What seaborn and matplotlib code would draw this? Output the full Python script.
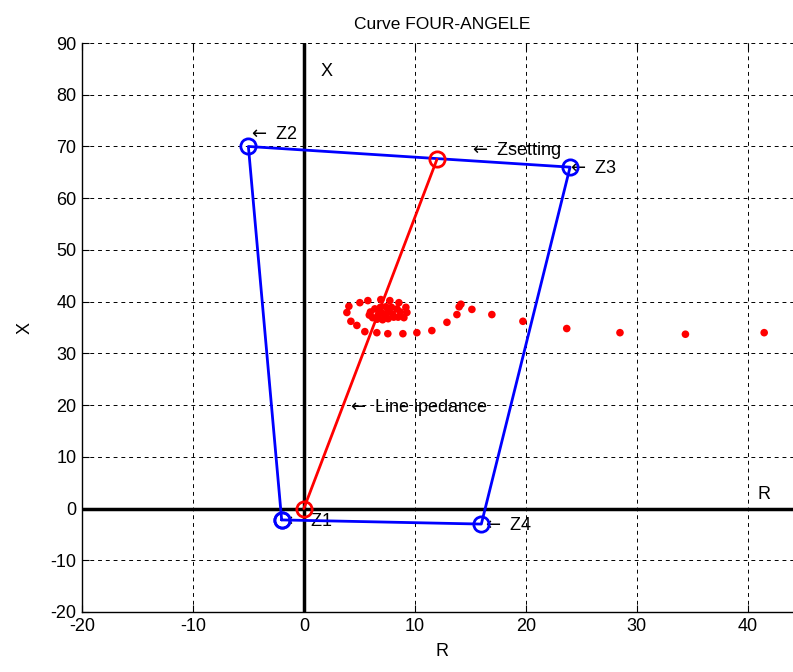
import matplotlib
matplotlib.use("Agg")
import matplotlib.pyplot as plt
import seaborn as sns
import pandas as pd

# ---- data ----
zone_names = ["Z1", "Z2", "Z3", "Z4"]
zone_r = [-2.0, -5.0, 24.0, 16.0]
zone_x = [-2.2, 70.0, 66.0, -3.0]

line_r = [0.0, 12.0]
line_x = [0.0, 67.5]

traj_r = [41.5, 34.4, 28.5, 23.7, 19.75, 16.95, 15.15, 14.16, 14.0, 13.8, 12.9,
          11.54, 10.19, 8.93, 7.57, 6.58, 5.5, 4.78, 4.24, 3.88, 4.06, 5.05,
          5.77, 6.94, 7.75, 8.57, 9.2, 9.29, 9.02,
          8.5, 8.7, 8.4, 7.9, 7.4, 6.9, 6.4, 6.0, 5.9, 6.2, 6.6, 7.1, 7.6,
          8.1, 7.0, 7.3, 6.8, 7.6, 6.7, 8.0]
traj_x = [34.0, 33.7, 34.0, 34.8, 36.2, 37.5, 38.5, 39.5, 39.0, 37.5, 36.0,
          34.4, 34.0, 33.8, 33.8, 34.0, 34.2, 35.4, 36.2, 37.9, 39.1, 39.8,
          40.2, 40.4, 40.2, 39.8, 38.9, 37.9, 36.9,
          37.0, 38.0, 38.6, 38.9, 39.0, 38.9, 38.6, 38.0, 37.4, 36.9, 36.6,
          36.5, 36.7, 37.0, 37.8, 37.6, 38.1, 38.1, 37.4, 37.6]

xticks = [-20, -10, 0, 10, 20, 30, 40]
yticks = [-20, -10, 0, 10, 20, 30, 40, 50, 60, 70, 80, 90]

annotations = ["Z2", "Z3", "Zsetting", "Z1", "Z4", "Line ipedance"]

sns.set_theme(style="white")
plt.rcParams["font.family"] = ["Liberation Sans", "DejaVu Sans"]
plt.rcParams["axes.unicode_minus"] = False
plt.rcParams["text.color"] = "black"
plt.rcParams["axes.labelcolor"] = "black"
plt.rcParams["xtick.color"] = "black"
plt.rcParams["ytick.color"] = "black"
plt.rcParams["mathtext.fontset"] = "dejavusans"

fig = plt.figure(figsize=(7.93, 6.72), dpi=100)
W, H = 793, 672
left, right, top, bottom = 82, 803, 43, 612
ax = fig.add_axes([left / W, 1 - bottom / H, (right - left) / W, (bottom - top) / H])

# axes lines through origin
ax.axhline(0, color="black", lw=2.5, zorder=2)
ax.axvline(0, color="black", lw=2.5, zorder=2)

poly = pd.DataFrame({"R": zone_r + [zone_r[0]], "X": zone_x + [zone_x[0]]})
sns.lineplot(data=poly, x="R", y="X", sort=False, estimator=None, ax=ax,
             color=(0, 0, 1), lw=2, marker="o", markersize=11,
             markerfacecolor="none", markeredgecolor=(0, 0, 1), markeredgewidth=2,
             zorder=4)

ln = pd.DataFrame({"R": line_r, "X": line_x})
sns.lineplot(data=ln, x="R", y="X", sort=False, estimator=None, ax=ax,
             color=(1, 0, 0), lw=2, marker="o", markersize=11,
             markerfacecolor="none", markeredgecolor=(1, 0, 0), markeredgewidth=2,
             zorder=4)

traj = pd.DataFrame({"R": traj_r, "X": traj_x})
sns.scatterplot(data=traj, x="R", y="X", ax=ax, color=(1, 0, 0), s=30,
                edgecolor="none", zorder=5)

ax.set_xlim(-20, 45)
ax.set_ylim(-20, 90)
ax.set_xticks(xticks)
ax.set_yticks(yticks)
ax.grid(True, color="black", linestyle=(0, (4, 4)), lw=0.7)
for s in ["top", "right"]:
    ax.spines[s].set_visible(False)
for s in ["left", "bottom"]:
    ax.spines[s].set_color("black")
    ax.spines[s].set_linewidth(1.0)
ax.tick_params(direction="in", length=5, width=0.8, colors="black",
               labelsize=13, top=True, bottom=True, left=True, pad=4)

ax.set_xlabel("R", fontsize=13, labelpad=6)
ax.set_ylabel("X", fontsize=13, labelpad=12)
ax.set_title("Curve FOUR-ANGELE", fontsize=12.5, pad=10)

fs = 13
ax.text(1.5, 84.5, "X", fontsize=fs, va="center", ha="left")
ax.text(40.9, 2.8, "R", fontsize=fs, va="center", ha="left")
positions = [(-5.0, 72.4), (23.7, 65.8), (14.9, 69.2), (-1.9, -2.5),
             (16.1, -3.2), (3.9, 19.5)]
for t, (xx, yy) in zip(annotations, positions):
    ax.text(xx, yy, r"$\leftarrow$" + " " + t, fontsize=fs, va="center", ha="left")

fig.savefig("out.png", dpi=100)
